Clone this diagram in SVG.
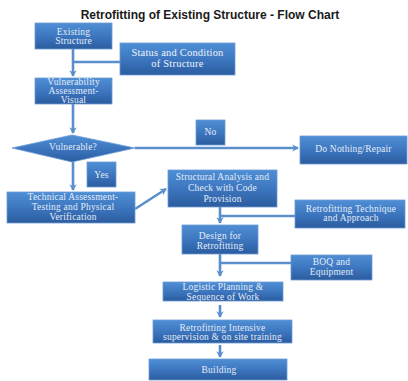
<svg xmlns="http://www.w3.org/2000/svg" width="408" height="381" viewBox="0 0 408 381">
  <defs>
    <linearGradient id="boxFill" x1="0" y1="0" x2="0" y2="1">
      <stop offset="0" stop-color="#4f8fd6"/>
      <stop offset="0.55" stop-color="#3b74bd"/>
      <stop offset="1" stop-color="#2b5c9e"/>
    </linearGradient>
    <marker id="head" viewBox="0 0 10 10" refX="8" refY="5" markerWidth="3.2" markerHeight="3.2" orient="auto">
      <path d="M1,0.5 L9,5 L1,9.5 L3.5,5 Z" fill="#5b8fcc"/>
    </marker>
  </defs>
  <style>
    .box { fill: url(#boxFill); stroke: #6c9cd6; stroke-width: 0.8; }
    .lbl { font-family: "Liberation Serif", "DejaVu Serif", serif; font-size: 9.5px; letter-spacing: 0.2px; fill: #e3ecf7; text-anchor: middle; }
    .lbl-lg { font-family: "Liberation Serif", "DejaVu Serif", serif; font-size: 10.5px; letter-spacing: 0.2px; fill: #eef3fa; text-anchor: middle; }
    .link { fill: none; stroke: #5b8fcc; stroke-width: 2.6; }
    .title { font-family: "Liberation Sans", Arial, sans-serif; font-size: 12px; font-weight: bold; fill: #1a1a1a; text-anchor: middle; }
  </style>

  <rect width="408" height="381" fill="#ffffff"/>
  <text class="title" x="210" y="19">Retrofitting of Existing Structure - Flow Chart</text>

  <g id="connectors">
    <path class="link" d="M73,49 V76" marker-end="url(#head)"/>
    <path class="link" d="M120,62 H73"/>
    <path class="link" d="M73,104 V133" marker-end="url(#head)"/>
    <path class="link" d="M135,148 H298" marker-end="url(#head)"/>
    <path class="link" d="M73,162 V190" marker-end="url(#head)"/>
    <path class="link" d="M135,209 L166,189" marker-end="url(#head)"/>
    <path class="link" d="M220,207 V223" marker-end="url(#head)"/>
    <path class="link" d="M295,216 H220"/>
    <path class="link" d="M220,254 V276" marker-end="url(#head)"/>
    <path class="link" d="M291,263 H220"/>
    <path class="link" d="M220,305 V317" marker-end="url(#head)"/>
    <path class="link" d="M220,345 V357" marker-end="url(#head)"/>
  </g>

  <g id="existing-structure">
    <rect class="box" x="35" y="23" width="77" height="26"/>
    <text class="lbl" x="73.5" y="35">Existing</text>
    <text class="lbl" x="73.5" y="44" font-size="7px">Structure</text>
  </g>

  <g id="status-condition">
    <rect class="box" x="120" y="43" width="115" height="32"/>
    <text class="lbl-lg" x="177.5" y="56">Status and Condition</text>
    <text class="lbl-lg" x="177.5" y="67">of Structure</text>
  </g>

  <g id="vulnerability-assessment">
    <rect class="box" x="35" y="78" width="77" height="26"/>
    <text class="lbl" x="73.5" y="85">Vulnerability</text>
    <text class="lbl" x="73.5" y="94">Assessment-</text>
    <text class="lbl" x="73.5" y="103">Visual</text>
  </g>

  <g id="vulnerable">
    <polygon class="box" points="12,148 72,135 135,148 72,162"/>
    <text class="lbl" x="73" y="150">Vulnerable?</text>
  </g>

  <g id="no-label">
    <rect class="box" x="196" y="120" width="29" height="25"/>
    <text class="lbl" x="210.5" y="135">No</text>
  </g>

  <g id="do-nothing">
    <rect class="box" x="300" y="136" width="107" height="28"/>
    <text class="lbl" x="353.5" y="152">Do Nothing/Repair</text>
  </g>

  <g id="yes-label">
    <rect class="box" x="87" y="162" width="29" height="25"/>
    <text class="lbl" x="101.5" y="178">Yes</text>
  </g>

  <g id="technical-assessment">
    <rect class="box" x="7" y="192" width="128" height="31"/>
    <text class="lbl" x="73" y="200">Technical Assessment-</text>
    <text class="lbl" x="73" y="210">Testing and Physical</text>
    <text class="lbl" x="73" y="220">Verification</text>
  </g>

  <g id="structural-analysis">
    <rect class="box" x="168" y="170" width="109" height="37"/>
    <text class="lbl" x="222.5" y="180">Structural Analysis and</text>
    <text class="lbl" x="222.5" y="191">Check with Code</text>
    <text class="lbl" x="222.5" y="202">Provision</text>
  </g>

  <g id="retrofitting-technique">
    <rect class="box" x="295" y="200" width="110" height="28"/>
    <text class="lbl" x="351" y="212">Retrofitting Technique</text>
    <text class="lbl" x="351" y="221">and Approach</text>
  </g>

  <g id="design">
    <rect class="box" x="182" y="225" width="76" height="29"/>
    <text class="lbl" x="220" y="239">Design for</text>
    <text class="lbl" x="220" y="249">Retrofitting</text>
  </g>

  <g id="boq">
    <rect class="box" x="291" y="255" width="81" height="25"/>
    <text class="lbl" x="331.5" y="265">BOQ and</text>
    <text class="lbl" x="331.5" y="275">Equipment</text>
  </g>

  <g id="logistic-planning">
    <rect class="box" x="163" y="282" width="120" height="19"/>
    <text class="lbl" x="223" y="290">Logistic Planning &amp;</text>
    <text class="lbl" x="223" y="300">Sequence of Work</text>
  </g>

  <g id="intensive-supervision">
    <rect class="box" x="153" y="320" width="139" height="23"/>
    <text class="lbl" x="222.5" y="331">Retrofitting Intensive</text>
    <text class="lbl" x="222.5" y="340">supervision &amp; on site training</text>
  </g>

  <g id="building">
    <rect class="box" x="149" y="359" width="138" height="21"/>
    <text class="lbl" x="219" y="373">Building</text>
  </g>
</svg>
